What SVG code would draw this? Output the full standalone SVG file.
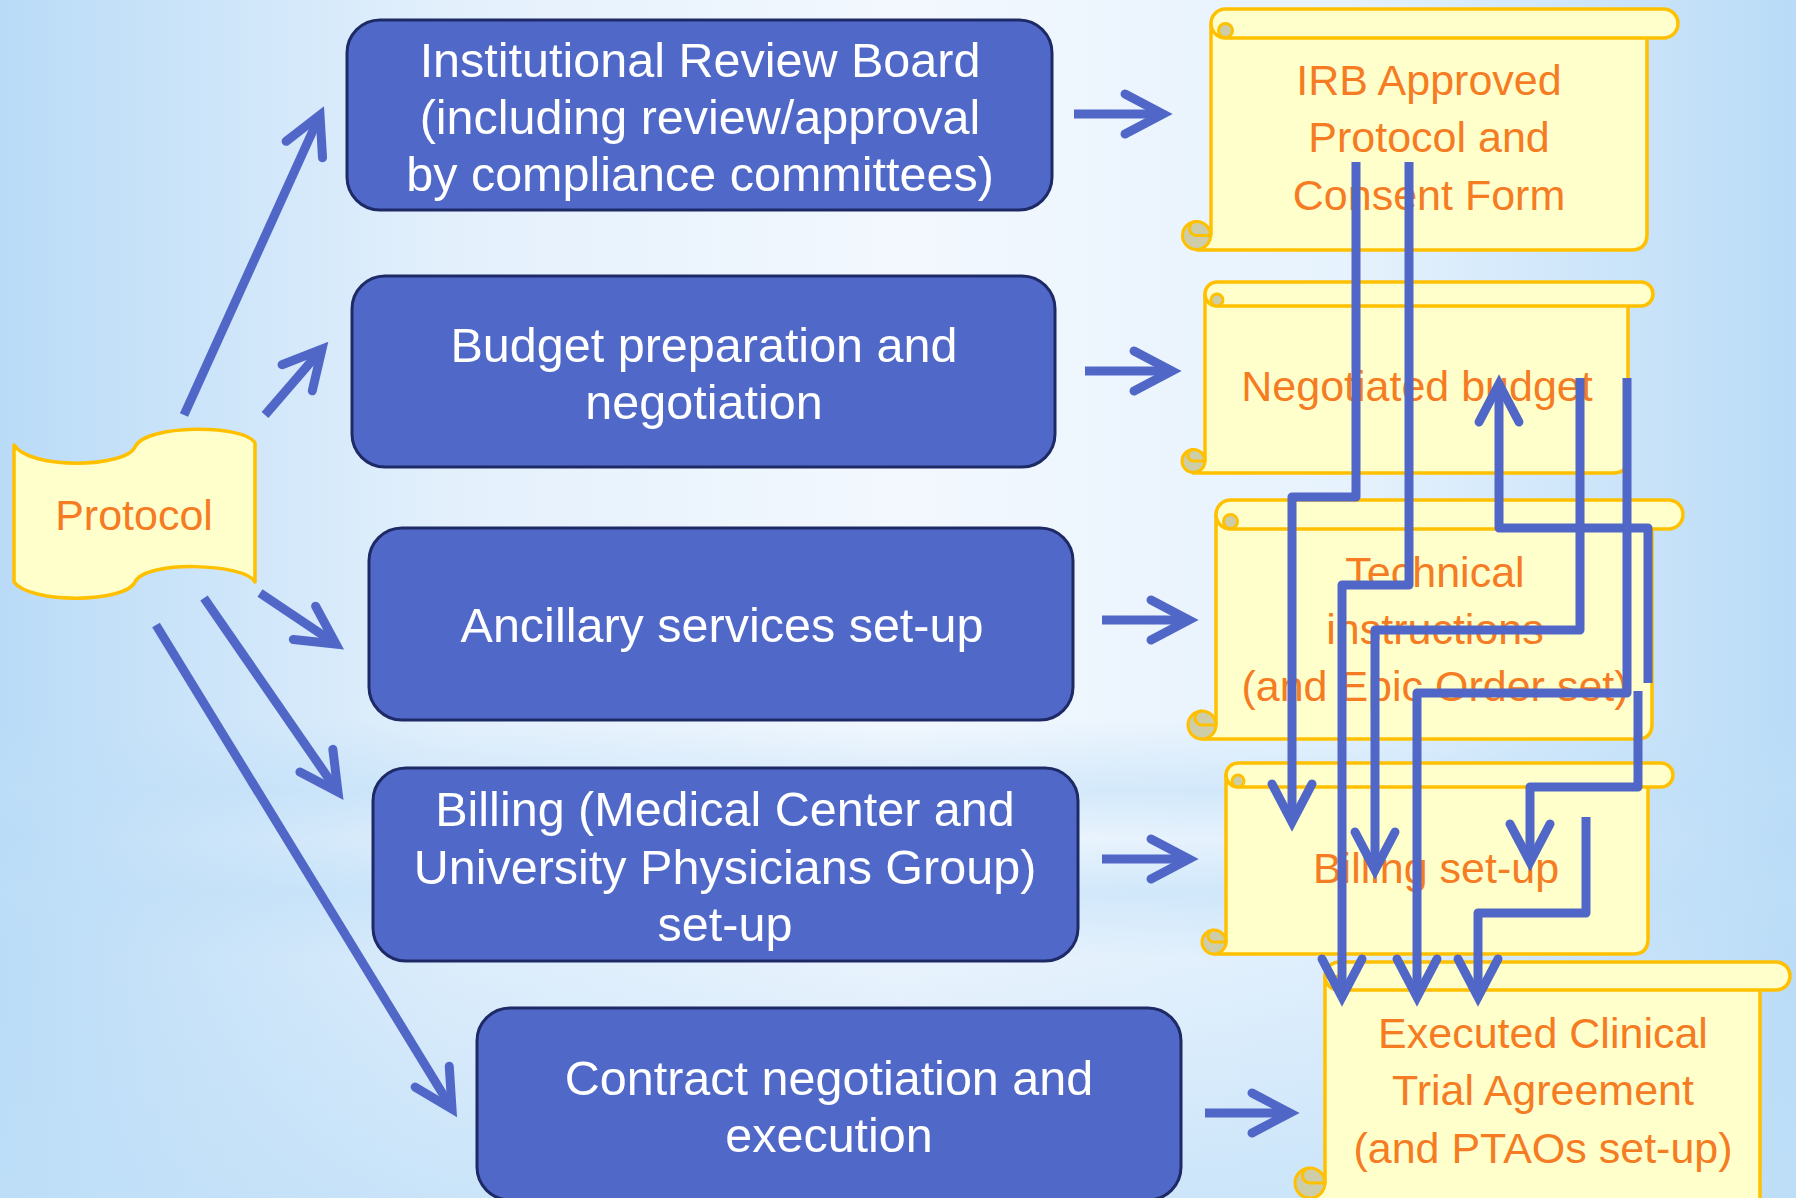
<svg xmlns="http://www.w3.org/2000/svg" width="1796" height="1198" viewBox="0 0 1796 1198">
<defs>
<linearGradient id="bgH" x1="0" y1="0" x2="1" y2="0">
<stop offset="0" stop-color="#B9DBF7"/>
<stop offset="0.25" stop-color="#E3F0FC"/>
<stop offset="0.5" stop-color="#F3F8FE"/>
<stop offset="0.75" stop-color="#E6F2FD"/>
<stop offset="1" stop-color="#B9DBF7"/>
</linearGradient>
<linearGradient id="bgV" x1="0" y1="0" x2="0" y2="1">
<stop offset="0" stop-color="#BFDFF8" stop-opacity="0"/>
<stop offset="0.6" stop-color="#BFDFF8" stop-opacity="0"/>
<stop offset="0.66" stop-color="#BFDFF8" stop-opacity="0.55"/>
<stop offset="0.7" stop-color="#BFDFF8" stop-opacity="0.1"/>
<stop offset="0.745" stop-color="#BFDFF8" stop-opacity="0.6"/>
<stop offset="0.8" stop-color="#BFDFF8" stop-opacity="0.2"/>
<stop offset="1" stop-color="#BFDFF8" stop-opacity="0.7"/>
</linearGradient>
<marker id="ah" markerUnits="userSpaceOnUse" viewBox="-60 -40 80 80" markerWidth="80" markerHeight="80" refX="0" refY="0" orient="auto" overflow="visible">
<path d="M-38,-20 L0,0 L-38,20" fill="none" stroke="#5067C8" stroke-width="9" stroke-linecap="round" stroke-linejoin="miter"/>
</marker>
<style>
.box{fill:#5068C8;stroke:#1E2A66;stroke-width:3}
.bt{font-family:"Liberation Sans",Arial,sans-serif;font-size:48.5px;fill:#FFFFFF;text-anchor:middle}
.ot{font-family:"Liberation Sans",Arial,sans-serif;font-size:43px;fill:#F57C22;text-anchor:middle}
.sc{fill:#FFFFCC;stroke:#FFC000;stroke-width:3.5;stroke-linejoin:round}
.curl{fill:#CDCDA9;stroke:#FFC000;stroke-width:3}
.cl{fill:none;stroke:#FFC000;stroke-width:3}
.ln{fill:none;stroke:#5067C8;stroke-width:9;stroke-linejoin:round;marker-end:url(#ah)}
</style>
</defs>
<rect x="0" y="0" width="1796" height="1198" fill="url(#bgH)"/>
<rect x="0" y="0" width="1796" height="1198" fill="url(#bgV)"/>

<g id="protocol">
<path class="sc" d="M14,445 C30,470 125,468 135,447 C145,424 245,424 255,443 L255,582 C245,563 145,560 135,582 C125,603 30,604 14,582 Z"/>
<text class="ot" x="134" y="530">Protocol</text>
</g>

<g id="irb">
<rect class="box" x="347" y="20" width="705" height="190" rx="33"/>
<text class="bt" x="700" y="77">Institutional Review Board</text>
<text class="bt" x="700" y="134">(including review/approval</text>
<text class="bt" x="700" y="191">by compliance committees)</text>
</g>
<g id="budget">
<rect class="box" x="352" y="276" width="703" height="191" rx="33"/>
<text class="bt" x="704" y="362">Budget preparation and</text>
<text class="bt" x="704" y="419">negotiation</text>
</g>
<g id="ancillary">
<rect class="box" x="369" y="528" width="704" height="192" rx="33"/>
<text class="bt" x="722" y="642">Ancillary services set-up</text>
</g>
<g id="billing">
<rect class="box" x="373" y="768" width="705" height="193" rx="33"/>
<text class="bt" x="725" y="826">Billing (Medical Center and</text>
<text class="bt" x="725" y="884">University Physicians Group)</text>
<text class="bt" x="725" y="941">set-up</text>
</g>
<g id="contract">
<rect class="box" x="477" y="1008" width="704" height="192" rx="33"/>
<text class="bt" x="829" y="1095">Contract negotiation and</text>
<text class="bt" x="829" y="1152">execution</text>
</g>

<g id="irb-approved">
<path class="sc" d="M1211,24 H1647 V234 Q1647,250 1631,250 H1197 V235 H1211 Z"/>
<rect class="sc" x="1211" y="9" width="467" height="29" rx="14.5"/>
<circle class="curl" cx="1225.5" cy="30.5" r="7"/>
<circle class="curl" cx="1196.5" cy="235.5" r="14"/>
<path class="cl" d="M1196.5,235.5 H1211 M1196.5,235.5 A7,7 0 0 1 1196.5,221.5"/>
<text class="ot" x="1429" y="95">IRB Approved</text>
<text class="ot" x="1429" y="152">Protocol and</text>
<text class="ot" x="1429" y="210">Consent Form</text>
</g>
<g id="negotiated-budget">
<path class="sc" d="M1205,294 H1628 V458 Q1628,473 1613,473 H1193 V461 H1205 Z"/>
<rect class="sc" x="1205" y="282" width="448" height="24" rx="12"/>
<circle class="curl" cx="1217" cy="300" r="6"/>
<circle class="curl" cx="1193.5" cy="461" r="11.5"/>
<path class="cl" d="M1193.5,461 H1205 M1193.5,461 A5.75,5.75 0 0 1 1193.5,449.5"/>
<text class="ot" x="1417" y="401">Negotiated budget</text>
</g>
<g id="technical">
<path class="sc" d="M1216,514 H1652 V724 Q1652,739 1637,739 H1202 V725 H1216 Z"/>
<rect class="sc" x="1216" y="500" width="467" height="29" rx="14.5"/>
<circle class="curl" cx="1230.5" cy="521.5" r="7"/>
<circle class="curl" cx="1202" cy="725" r="14"/>
<path class="cl" d="M1202,725 H1216 M1202,725 A7,7 0 0 1 1202,711"/>
<text class="ot" x="1435" y="587">Technical</text>
<text class="ot" x="1435" y="644">instructions</text>
<text class="ot" x="1435" y="701">(and Epic Order set)</text>
</g>
<g id="billing-setup">
<path class="sc" d="M1226,775 H1648 V939 Q1648,954 1633,954 H1214 V942 H1226 Z"/>
<rect class="sc" x="1226" y="763" width="447" height="24" rx="12"/>
<circle class="curl" cx="1238" cy="781" r="6"/>
<circle class="curl" cx="1214" cy="942" r="12"/>
<path class="cl" d="M1214,942 H1226 M1214,942 A6,6 0 0 1 1214,930"/>
<text class="ot" x="1436" y="883">Billing set-up</text>
</g>
<g id="executed-cta">
<path class="sc" d="M1325,976 H1760 V1200 H1310 V1183 H1325 Z"/>
<rect class="sc" x="1325" y="962" width="465" height="28" rx="14"/>
<circle class="curl" cx="1339" cy="983" r="7"/>
<circle class="curl" cx="1310" cy="1183" r="15"/>
<path class="cl" d="M1310,1183 H1325 M1310,1183 A7.5,7.5 0 0 1 1310,1168"/>
<text class="ot" x="1543" y="1048">Executed Clinical</text>
<text class="ot" x="1543" y="1105">Trial Agreement</text>
<text class="ot" x="1543" y="1163">(and PTAOs set-up)</text>
</g>

<g id="connectors">
<path class="ln" d="M184,415 L320,115"/>
<path class="ln" d="M265,415 L322,349"/>
<path class="ln" d="M260,593 L336,644"/>
<path class="ln" d="M204,598 L338,792"/>
<path class="ln" d="M156,625 L452,1109"/>
<path class="ln" d="M1074,114 L1163,114"/>
<path class="ln" d="M1085,371 L1172,371"/>
<path class="ln" d="M1102,620 L1189,620"/>
<path class="ln" d="M1102,859 L1189,859"/>
<path class="ln" d="M1205,1113 L1290,1113"/>
<path class="ln" d="M1356,162 V497 H1292 V822"/>
<path class="ln" d="M1409,162 V585 H1342 V997"/>
<path class="ln" d="M1648,683 V528 H1499 V384"/>
<path class="ln" d="M1580,378 V630 H1375 V870"/>
<path class="ln" d="M1627,378 V693 H1417 V997"/>
<path class="ln" d="M1638,691 V787 H1530 V862"/>
<path class="ln" d="M1586,817 V913 H1478 V997"/>
</g>
</svg>
